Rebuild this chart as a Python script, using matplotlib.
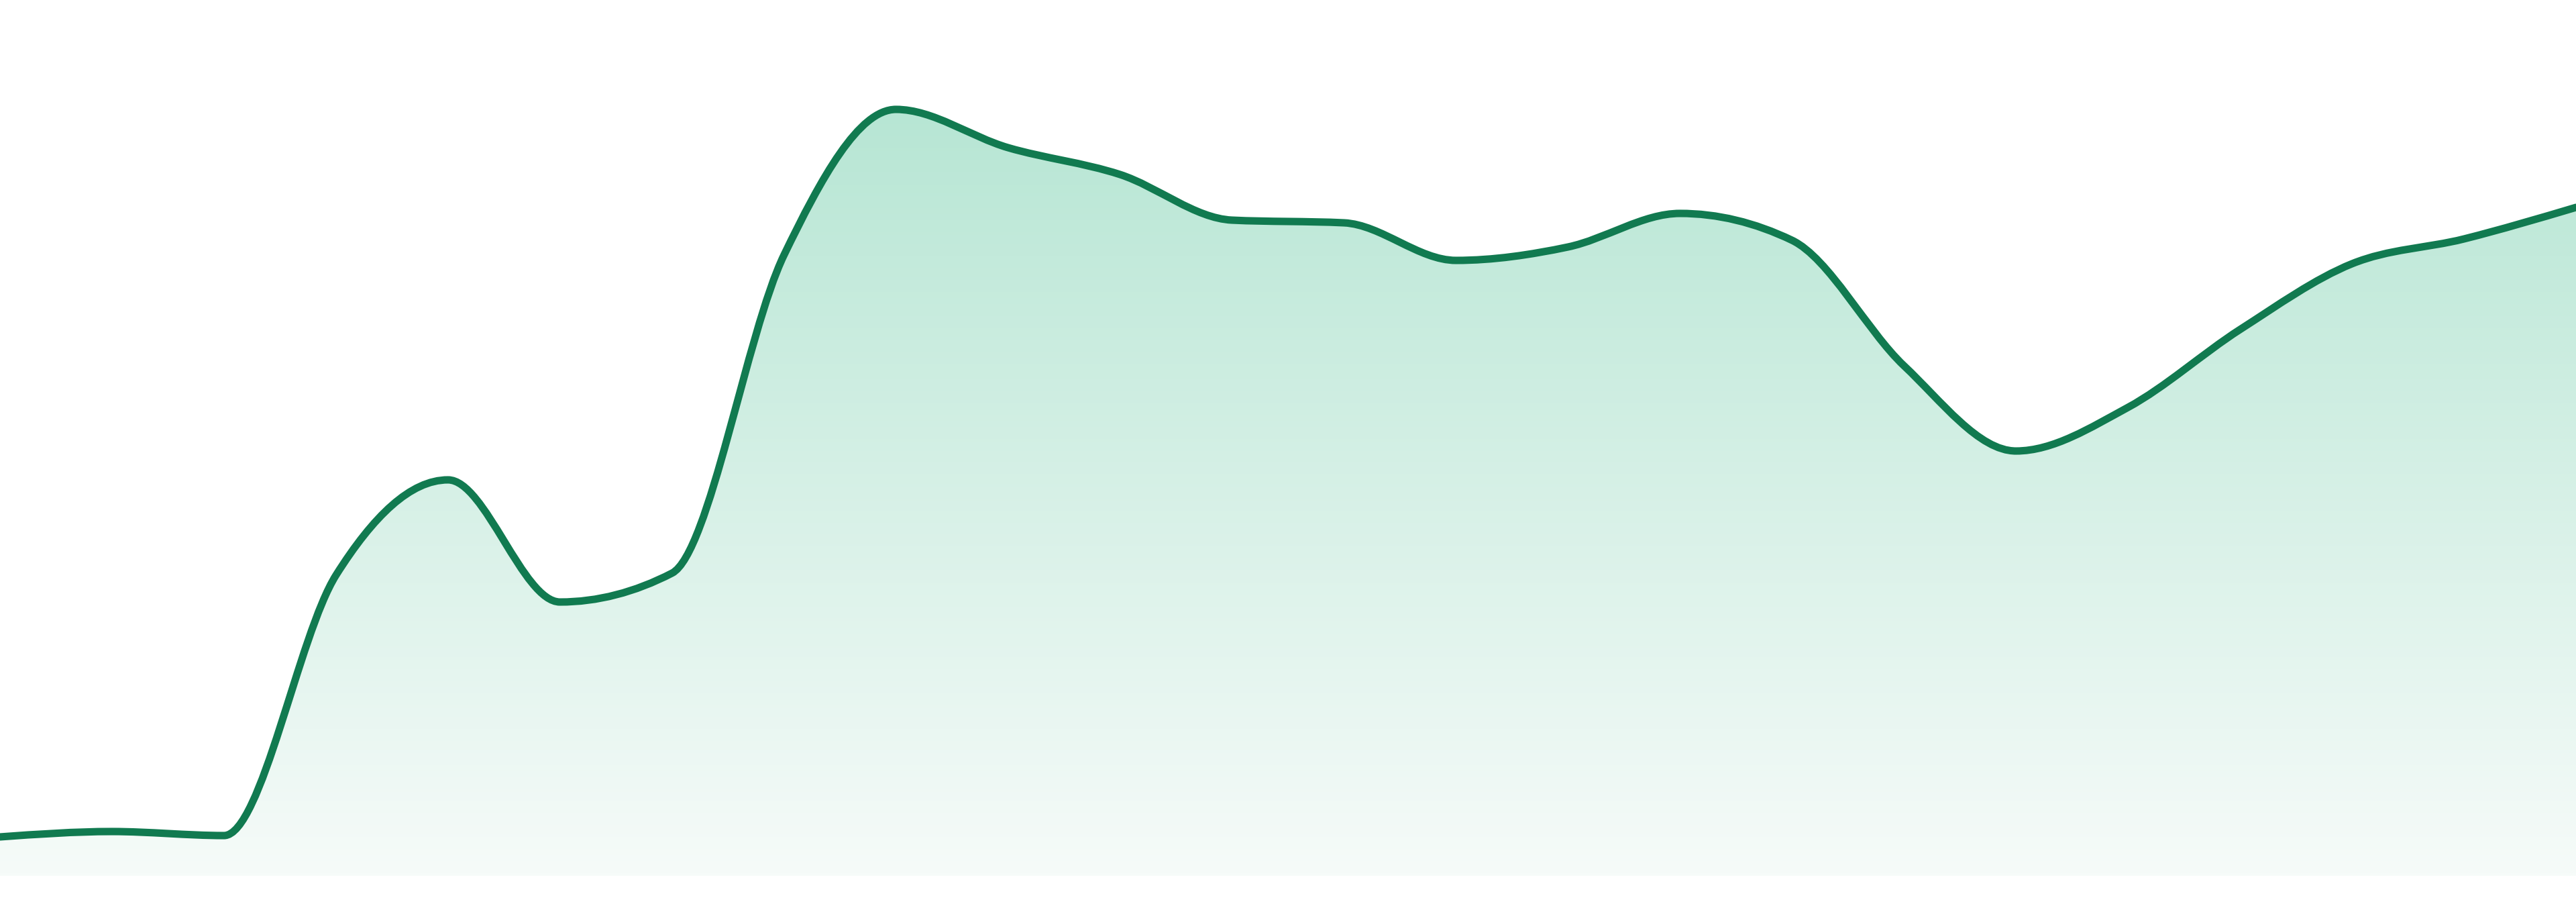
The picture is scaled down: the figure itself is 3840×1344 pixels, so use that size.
import numpy as np
import matplotlib
matplotlib.use("Agg")
import matplotlib.pyplot as plt
from matplotlib.path import Path
from matplotlib.patches import PathPatch
from matplotlib.colors import LinearSegmentedColormap

# values, one per step
steps = list(range(24))
values = [58, 66, 60, 448, 590, 408, 451, 925, 1142, 1085, 1045, 977,
          973, 917, 937, 987, 947, 760, 633, 698, 814, 912, 949, 996]

line_color = "#117a50"


def monotone_path(x, y):
    # same tangents as d3.curveMonotoneX, drawn as cubic beziers
    x = np.asarray(x, float)
    y = np.asarray(y, float)
    n = len(x)
    h = np.diff(x)
    s = np.diff(y) / h
    t = np.zeros(n)
    for i in range(1, n - 1):
        p = (s[i - 1] * h[i] + s[i] * h[i - 1]) / (h[i - 1] + h[i])
        t[i] = (np.sign(s[i - 1]) + np.sign(s[i])) * min(abs(s[i - 1]), abs(s[i]), 0.5 * abs(p))
    t[0] = (3 * s[0] - t[1]) / 2
    t[-1] = (3 * s[-1] - t[-2]) / 2
    verts = [(x[0], y[0])]
    codes = [Path.MOVETO]
    for i in range(n - 1):
        dx = (x[i + 1] - x[i]) / 3
        verts += [(x[i] + dx, y[i] + dx * t[i]),
                  (x[i + 1] - dx, y[i + 1] - dx * t[i + 1]),
                  (x[i + 1], y[i + 1])]
        codes += [Path.CURVE4] * 3
    return verts, codes


fig = plt.figure(figsize=(38.4, 13.44), dpi=100)
ax = fig.add_axes([0, 0, 1, 1])
ax.set_xlim(0, 23)
ax.set_ylim(-39, 1305)
ax.axis("off")

verts, codes = monotone_path(steps, values)

# area under the curve, filled with a vertical gradient
area_verts = verts + [(steps[-1], 0), (steps[0], 0), verts[0]]
area_codes = codes + [Path.LINETO, Path.LINETO, Path.CLOSEPOLY]
area = PathPatch(Path(area_verts, area_codes), facecolor="none", edgecolor="none")
ax.add_patch(area)

cmap = LinearSegmentedColormap.from_list("fade", ["#f6fbf9", "#b7e6d4"])
grad = np.linspace(0, 1, 256).reshape(-1, 1)
img = ax.imshow(grad, cmap=cmap, origin="lower", aspect="auto",
                extent=[0, 23, 0, max(values)], zorder=1)
img.set_clip_path(area)

line = PathPatch(Path(verts, codes), facecolor="none", edgecolor=line_color,
                 linewidth=8, capstyle="round", joinstyle="round", zorder=2)
ax.add_patch(line)

ax.set_xlim(0, 23)
ax.set_ylim(-39, 1305)

fig.savefig("out.png", dpi=100, facecolor="white")
